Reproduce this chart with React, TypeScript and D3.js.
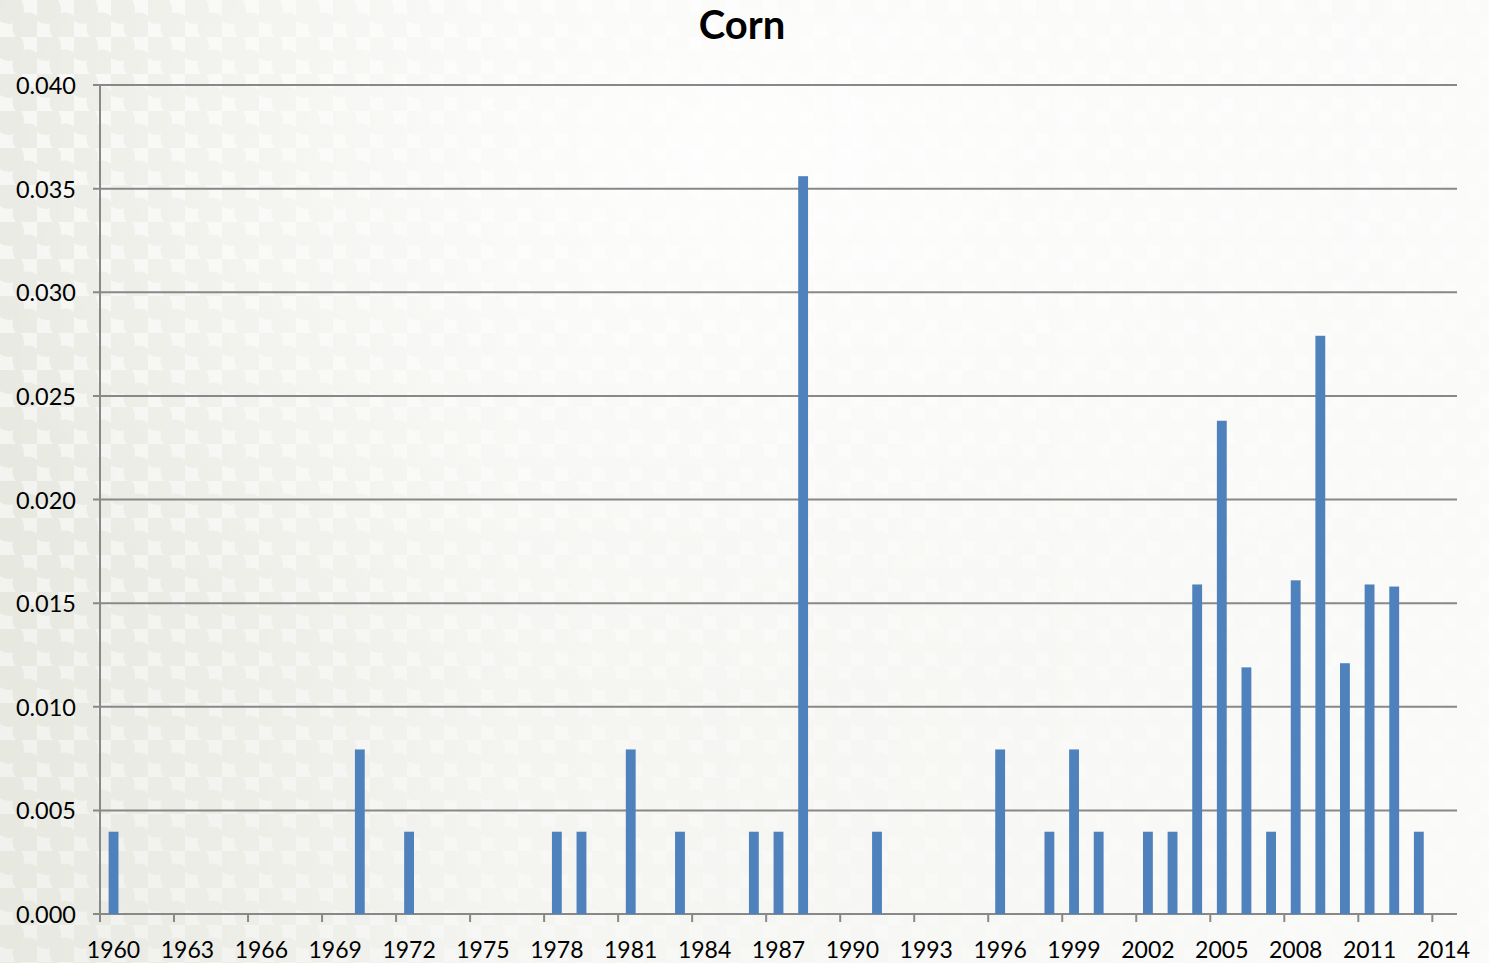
import * as d3 from "d3";
import { useMemo } from "react";

const W = 1489;
const H = 963;
const M = { top: 85, right: 32, bottom: 49, left: 100 };

const years = d3.range(1960, 2015).map(String);
const yearLabels = d3.range(1960, 2015, 3).map(String);
const barYears = [
  "1960", "1970", "1972", "1978", "1979", "1981", "1983", "1986", "1987", "1988",
  "1991", "1996", "1998", "1999", "2000", "2002", "2003", "2004", "2005", "2006",
  "2007", "2008", "2009", "2010", "2011", "2012", "2013",
];
const barValues = [
  0.00397, 0.00794, 0.00397, 0.00397, 0.00397, 0.00794, 0.00397, 0.00397, 0.00397, 0.0356,
  0.00397, 0.00794, 0.00397, 0.00794, 0.00397, 0.00397, 0.00397, 0.0159, 0.0238, 0.0119,
  0.00397, 0.0161, 0.0279, 0.0121, 0.0159, 0.0158, 0.00397,
];
const yTickValues = [0, 0.005, 0.01, 0.015, 0.02, 0.025, 0.03, 0.035, 0.04];

const FONT = "Lato, 'Open Sans', sans-serif";

export default function App() {
  const x = useMemo(
    () => d3.scaleBand<string>().domain(years).range([M.left, W - M.right]).paddingInner(0.6).paddingOuter(0.35),
    [],
  );
  const xEdge = useMemo(
    () => d3.scaleLinear().domain([0, years.length]).range([M.left, W - M.right]),
    [],
  );
  const y = useMemo(
    () => d3.scaleLinear().domain([0, 0.04]).range([H - M.bottom, M.top]),
    [],
  );

  const fmt = d3.format(".3f");
  const data = barYears.map((yr, i) => ({ yr, v: barValues[i] }));

  return (
    <svg
      width={W}
      height={H}
      style={{ position: "absolute", left: 0, top: 0, display: "block" }}
    >
      <defs>
        <pattern id="dots" width="37" height="37" patternUnits="userSpaceOnUse">
          <circle cx="9" cy="9" r="15" fill="#e7e8e0" />
          <circle cx="27.5" cy="27.5" r="15" fill="#e7e8e0" />
        </pattern>
        <linearGradient id="fade" x1="0" x2="1" y1="0" y2="0">
          <stop offset="0" stopColor="#fff" stopOpacity="0" />
          <stop offset="0.35" stopColor="#fff" stopOpacity="0.55" />
          <stop offset="1" stopColor="#fff" stopOpacity="0.8" />
        </linearGradient>
        <radialGradient id="glow" cx="0.5" cy="0.15" r="0.6">
          <stop offset="0" stopColor="#fff" stopOpacity="0.8" />
          <stop offset="1" stopColor="#fff" stopOpacity="0" />
        </radialGradient>
        <linearGradient id="tint" x1="0" x2="1" y1="0" y2="1">
          <stop offset="0" stopColor="#f6f6f3" />
          <stop offset="1" stopColor="#eaece6" />
        </linearGradient>
      </defs>

      {/* Background */}
      <rect x={0} y={0} width={W} height={H} fill="url(#tint)" />
      <rect x={0} y={0} width={W} height={H} fill="url(#dots)" />
      <rect x={0} y={0} width={W} height={H} fill="url(#fade)" />
      <rect x={0} y={0} width={W} height={H} fill="url(#glow)" />

      {/* Title */}
      <text
        x={742}
        y={39}
        textAnchor="middle"
        fontFamily={FONT}
        fontWeight={700}
        fontSize={40}
        fill="#000"
      >
        Corn
      </text>

      {/* Gridlines + y labels */}
      {yTickValues.map((t) => (
        <g key={t}>
          <line
            x1={M.left - 7}
            x2={W - M.right}
            y1={y(t)}
            y2={y(t)}
            stroke="#888"
            strokeWidth={2}
          />
          <text
            x={76}
            y={y(t)}
            textAnchor="end"
            dominantBaseline="central"
            fontFamily={FONT}
            fontSize={23.5}
            fill="#000"
          >
            {fmt(t)}
          </text>
        </g>
      ))}

      {/* Y axis */}
      <line x1={M.left} x2={M.left} y1={M.top} y2={H - M.bottom} stroke="#888" strokeWidth={2} />

      {/* Bars */}
      {data.map((d) => (
        <rect
          key={d.yr}
          x={x(d.yr)}
          y={y(d.v)}
          width={x.bandwidth()}
          height={y(0) - y(d.v)}
          fill="#4f81bd"
        />
      ))}

      {/* X axis ticks + labels */}
      {d3.range(0, years.length + 1, 3).map((i) => (
        <line
          key={`t${i}`}
          x1={xEdge(i)}
          x2={xEdge(i)}
          y1={y(0)}
          y2={y(0) + 8}
          stroke="#888"
          strokeWidth={2}
        />
      ))}
      {yearLabels.map((yr) => (
        <text
          key={yr}
          x={(x(yr) ?? 0) + x.bandwidth() / 2}
          y={958}
          textAnchor="middle"
          fontFamily={FONT}
          fontSize={23}
          fill="#000"
        >
          {yr}
        </text>
      ))}
    </svg>
  );
}
